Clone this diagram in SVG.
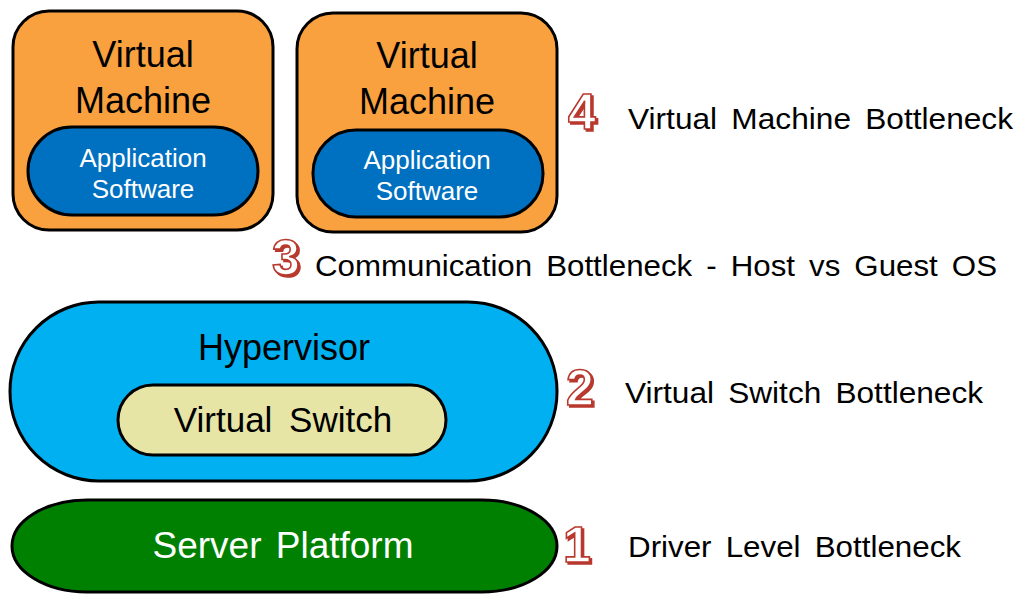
<svg xmlns="http://www.w3.org/2000/svg" width="1019" height="594" viewBox="0 0 1019 594">
<style>
.sh{stroke:#000;stroke-width:3}
.t{font-family:"Liberation Sans",Arial,sans-serif;text-anchor:middle}
.lbl{font-family:"Liberation Sans",Arial,sans-serif;font-size:29px;fill:#000;word-spacing:5px}
.num{font-family:"Liberation Sans",Arial,sans-serif;font-size:50px;font-weight:bold;fill:#fff;stroke:#b8392e;stroke-width:1.6}
.nsh{font-family:"Liberation Sans",Arial,sans-serif;font-size:50px;font-weight:bold;fill:#b8392e;stroke:#b8392e;stroke-width:1.6}
</style>
<rect width="1019" height="594" fill="#fff"/>
<g id="vm1">
<rect class="sh" x="13" y="11" width="260" height="219" rx="36" fill="#F9A03F"/>
<text class="t" x="143" y="67" font-size="36">Virtual</text>
<text class="t" x="143" y="113" font-size="36">Machine</text>
<rect class="sh" x="28" y="127" width="230" height="88" rx="44" fill="#0070C0"/>
<text class="t" x="143" y="167" font-size="26" fill="#fff">Application</text>
<text class="t" x="143" y="198" font-size="26" fill="#fff">Software</text>
</g>
<g id="vm2">
<rect class="sh" x="297" y="13" width="260" height="219" rx="36" fill="#F9A03F"/>
<text class="t" x="427" y="68" font-size="36">Virtual</text>
<text class="t" x="427" y="114" font-size="36">Machine</text>
<rect class="sh" x="313" y="130" width="230" height="87" rx="43" fill="#0070C0"/>
<text class="t" x="427" y="169" font-size="26" fill="#fff">Application</text>
<text class="t" x="427" y="200" font-size="26" fill="#fff">Software</text>
</g>
<g id="hypervisor">
<rect class="sh" x="10" y="302" width="547" height="179" rx="89" fill="#00B0F0"/>
<text class="t" x="284" y="360" font-size="36">Hypervisor</text>
</g>
<g id="vswitch">
<rect class="sh" x="118" y="385" width="328" height="70" rx="35" fill="#E6E5A5"/>
<text class="t" x="283" y="432" font-size="35" word-spacing="7">Virtual Switch</text>
</g>
<g id="server">
<rect class="sh" x="12" y="500" width="545" height="92" rx="75" ry="46" fill="#008000"/>
<text class="t" x="283" y="558" font-size="37" fill="#fff" word-spacing="4">Server Platform</text>
</g>
<g id="connectors"></g>
<g id="labels">
<text class="nsh" x="570" y="131">4</text>
<text class="num" x="568" y="129">4</text>
<text class="lbl" x="628" y="129" textLength="385" lengthAdjust="spacingAndGlyphs">Virtual Machine Bottleneck</text>
<text class="nsh" x="274" y="277">3</text>
<text class="num" x="272" y="275">3</text>
<text class="lbl" x="315" y="276" textLength="682" lengthAdjust="spacingAndGlyphs">Communication Bottleneck - Host vs Guest OS</text>
<text class="nsh" x="568" y="407">2</text>
<text class="num" x="566" y="405">2</text>
<text class="lbl" x="625" y="403" textLength="358" lengthAdjust="spacingAndGlyphs">Virtual Switch Bottleneck</text>
<text class="nsh" x="565" y="564">1</text>
<text class="num" x="563" y="562">1</text>
<text class="lbl" x="628" y="557" textLength="333" lengthAdjust="spacingAndGlyphs">Driver Level Bottleneck</text>
</g>
</svg>
